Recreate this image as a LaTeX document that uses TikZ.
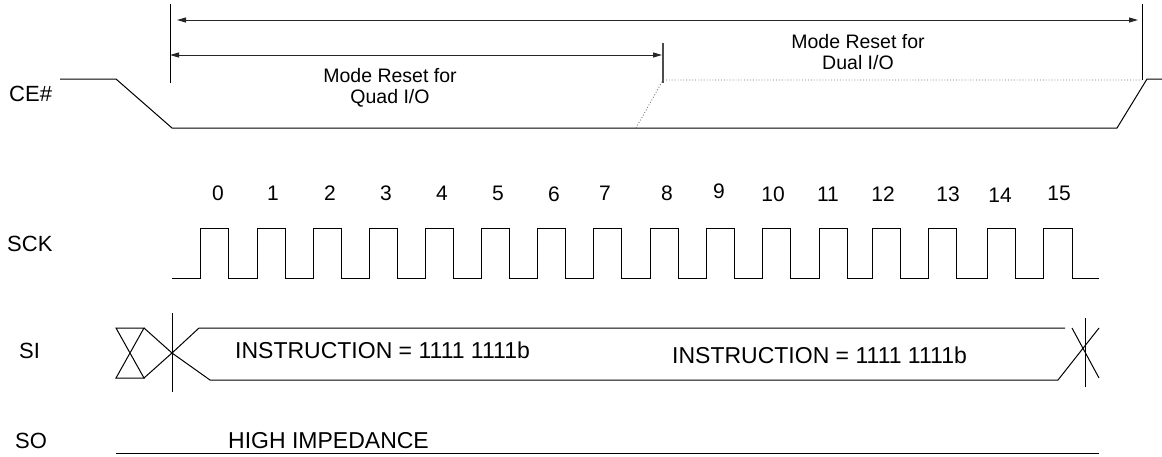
\documentclass[tikz,border=0pt]{standalone}
\usepackage{fontspec}
\setmainfont{Liberation Sans}
\usetikzlibrary{arrows.meta}
\begin{document}
\begin{tikzpicture}[x=1pt,y=-1pt,
  wire/.style={line width=1pt, black},
  dimline/.style={line width=1pt, black!85},
  tip/.style={Triangle[length=9pt,width=5pt]},
  dots/.style={line width=0.9pt, black!55, dotted},
  marker/.style={line width=1pt, black},
  siglabel/.style={font=\fontsize{22}{26}\selectfont, anchor=base west, inner sep=0pt},
  bustext/.style={font=\fontsize{23}{27}\selectfont, anchor=base west, inner sep=0pt},
  digit/.style={font=\fontsize{21}{25}\selectfont, anchor=base, inner sep=0pt},
  modetext/.style={font=\fontsize{19.5}{21}\selectfont, align=center, inner sep=0pt}
]
\useasboundingbox (0,0) rectangle (1162,456);

% signal labels
\node[siglabel] (ce)  at (9,101)  {CE\#};
\node[siglabel] (sck) at (7,251)  {SCK};
\node[siglabel] (si)  at (19,358) {SI};
\node[siglabel] (so)  at (15,448) {SO};

% reference markers
\coordinate (mL1) at (170,4);   \coordinate (mL2) at (170,83);
\coordinate (mM1) at (663,43);  \coordinate (mM2) at (663,83);
\coordinate (mR1) at (1142,4);  \coordinate (mR2) at (1142,80);
\draw[marker] (mL1) -- (mL2);
\draw[line width=1.5pt, black!70] (mM1) -- (mM2);
\draw[marker] (mR1) -- (mR2);

% dimension arrows
\coordinate (aT1) at (177,20);  \coordinate (aT2) at (1138,20);
\coordinate (aQ1) at (170,55);  \coordinate (aQ2) at (662,55);
\draw[dimline, {Triangle[length=9pt,width=5pt]}-{Triangle[length=9pt,width=5pt]}] (aT1) -- (aT2);
\draw[dimline, {Triangle[length=9pt,width=5pt]}-{Triangle[length=9pt,width=5pt]}] (aQ1) -- (aQ2);

\node[modetext] (quad) at (390,87.5) {Mode Reset for\\Quad I/O};
\node[modetext] (dual) at (858,52.5) {Mode Reset for\\Dual I/O};

% CE#
\draw[wire] (60,79) -- (116,79) -- (172,128) -- (1117,128) -- (1147,79) -- (1162,79);
\draw[dots] (636,128) -- (663,80) -- (1142,80);

% SCK
\draw[wire] (172,278)
  \foreach \r/\f in {200/228,257/285,313/341,369/397,425/453,481/509,537/565,593/621,
                     650/678,706/734,762/790,819/847,872/900,928/956,987/1015,1043/1072}
  { -- (\r,278) -- (\r,228) -- (\f,228) -- (\f,278) } -- (1099,278);

\foreach \n/\x/\y in {0/218/200,1/273/200,2/330/200,3/386/200,4/442/200,5/498/200,
                      6/554/201,7/605/200,8/667/200,9/719/198,10/773/201,11/828/201,
                      12/883/201,13/948/201,14/1000/202,15/1059/200}
  \node[digit] (c\n) at (\x,\y) {\n};

% SI
\draw[wire] (116,328) -- (144,328) -- (116,378) -- (144,378) -- cycle;
\draw[wire] (144,328) -- (172,353) -- (210,380) -- (1058,380) -- (1099,328);
\draw[wire] (144,378) -- (172,353) -- (199,328) -- (1065,328);
\draw[wire] (1072,328) -- (1099,378);
\draw[wire] (172,313) -- (172,392);
\draw[wire] (1085,318) -- (1085,387);
\node[bustext] (ins1) at (235,358) {INSTRUCTION = 1111 1111b};
\node[bustext] (ins2) at (672,363) {INSTRUCTION = 1111 1111b};

% SO
\draw[wire] (116,453) -- (1099,453);
\node[bustext] (hiz) at (228,448) {HIGH IMPEDANCE};
\end{tikzpicture}
\end{document}
